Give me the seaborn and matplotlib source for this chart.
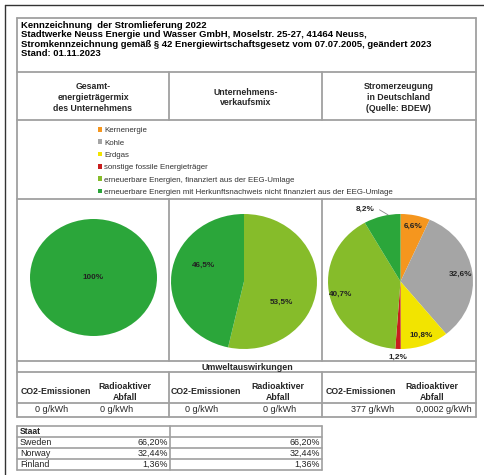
# %% Requirements and constants
import numpy as np
import seaborn as sns
import matplotlib.pyplot as plt
from matplotlib.patches import Patch

sns.set_theme(style='white')
plt.rcParams['font.family'] = ['Liberation Sans', 'DejaVu Sans']

title_lines = [
    'Kennzeichnung  der Stromlieferung 2022',
    'Stadtwerke Neuss Energie und Wasser GmbH, Moselstr. 25-27, 41464 Neuss,',
    'Stromkennzeichnung gemäß § 42 Energiewirtschaftsgesetz vom 07.07.2005, geändert 2023',
    'Stand: 01.11.2023',
]
col_headers = [
    'Gesamt-\nenergieträgermix\ndes Unternehmens',
    'Unternehmens-\nverkaufsmix',
    'Stromerzeugung\nin Deutschland\n(Quelle: BDEW)',
]
sources = [
    'Kernenergie',
    'Kohle',
    'Erdgas',
    'sonstige fossile Energieträger',
    'erneuerbare Energien, finanziert aus der EEG-Umlage',
    'erneuerbare Energien mit Herkunftsnachweis nicht finanziert aus der EEG-Umlage',
]
colors = ['#f5961e', '#a5a5a5', '#f2e400', '#c81e1e', '#86bc2a', '#2ba63a']

mix_company = [0, 0, 0, 0, 0, 100]
mix_sales = [0, 0, 0, 0, 53.5, 46.5]
mix_germany = [6.6, 32.6, 10.8, 1.2, 40.7, 8.2]

co2 = ['0 g/kWh', '0 g/kWh', '377 g/kWh']
radio = ['0 g/kWh', '0 g/kWh', '0,0002 g/kWh']

staat = ['Sweden', 'Norway', 'Finland']
staat_share = ['66,20%', '32,44%', '1,36%']

W, H = 485, 475
GRID = '#a0a0a0'


def fmt(v):
    return '100%' if v == 100 else f'{v:.1f}'.replace('.', ',') + '%'


# %% Layout
fig = plt.figure(figsize=(W / 100, H / 100), dpi=100)
ax = fig.add_axes([0, 0, 1, 1])
ax.set_xlim(0, W)
ax.set_ylim(H, 0)
ax.axis('off')

# outer frame (only top/left visible)
ax.plot([5, W], [5, 5], color='#333333', lw=1)
ax.plot([5, 5], [5, H], color='#333333', lw=1)

# main table
L, R, T, B = 17, 476, 18, 417
c1, c2 = 169, 322
for y in [T, 72, 120, 199, 361, 372, 403, B]:
    ax.plot([L, R], [y, y], color=GRID, lw=1.3)
for x in [L, R]:
    ax.plot([x, x], [T, B], color=GRID, lw=1.3)
for x in [c1, c2]:
    for y0, y1 in [(72, 120), (199, 361), (372, B)]:
        ax.plot([x, x], [y0, y1], color=GRID, lw=1.3)

for i, line in enumerate(title_lines):
    ax.text(21, 25 + i * 9.6, line, fontsize=6.8, fontweight='bold',
            va='center', ha='left', color='black')

for cx, txt in zip([93, 245.5, 399], col_headers):
    ax.text(cx, 97.5, txt, fontsize=6.3, fontweight='bold', ha='center',
            va='center', linespacing=1.25)

# legend
handles = [Patch(facecolor=c, edgecolor='none') for c in colors]
ax.legend(handles, sources, loc='upper left', bbox_to_anchor=(98 / W, 1 - 127 / H),
          frameon=False, fontsize=5.7, handlelength=0.55, handleheight=0.55,
          handletextpad=0.2, labelspacing=0.65, borderaxespad=0, borderpad=0,
          labelcolor='#333333')

# pies
boxes = [(30, 219, 157, 336), (171, 214, 317, 349), (328, 214, 473, 349)]
for (x0, y0, x1, y1), vals in zip(boxes, [mix_company, mix_sales, mix_germany]):
    pax = fig.add_axes([x0 / W, 1 - y1 / H, (x1 - x0) / W, (y1 - y0) / H])
    idx = [i for i, v in enumerate(vals) if v > 0]
    v = [vals[i] for i in idx]
    wedges, _ = pax.pie(v, colors=[colors[i] for i in idx], startangle=90,
                        counterclock=False, wedgeprops=dict(linewidth=0))
    pax.set_aspect('auto')
    pax.set_xlim(-1, 1)
    pax.set_ylim(-1, 1)
    for w, val in zip(wedges, v):
        ang = np.deg2rad((w.theta1 + w.theta2) / 2)
        r = 0.84 if len(v) > 2 else 0.0
        if len(v) == 2:
            r = 0.6
            ang += np.deg2rad(-25 if val > 50 else -17)
        if val < 2:
            r = 1.13
        if 8 < val < 9:
            # small slice: label outside with a leader line
            r = 1.17
            edge = ang - np.deg2rad(5)
            ang += np.deg2rad(10)
            tx, ty = r * np.cos(ang), r * np.sin(ang)
            pax.plot([tx + 0.2, np.cos(edge)], [ty, np.sin(edge)],
                     color='#888888', lw=0.6, clip_on=False)
        tx, ty = r * np.cos(ang), r * np.sin(ang)
        pax.text(tx, ty, fmt(val), ha='center', va='center', fontsize=5.9,
                 fontweight='bold', color='#222222', clip_on=False)

# environmental impact
ax.text(247, 367, 'Umweltauswirkungen', fontsize=6.4, fontweight='bold',
        ha='center', va='center')
co2_x = [56, 206, 361]
rad_x = [125, 278, 432]
val_co2_x = [52, 202, 373]
val_rad_x = [117, 280, 444]
for i in range(3):
    ax.text(co2_x[i], 392, 'CO2-Emissionen', fontsize=6.3, fontweight='bold',
            ha='center', va='center')
    ax.text(rad_x[i], 392, 'Radioaktiver\nAbfall', fontsize=6.3, fontweight='bold',
            ha='center', va='center', linespacing=1.3)
    ax.text(val_co2_x[i], 410, co2[i], fontsize=6.5, ha='center', va='center')
    ax.text(val_rad_x[i], 410, radio[i], fontsize=6.5, ha='center', va='center')

# Staat table
rows = [426, 437, 448, 459, 470]
for y in rows:
    ax.plot([17, 322], [y, y], color=GRID, lw=1.2)
for x in [17, 170, 322]:
    ax.plot([x, x], [rows[0], rows[-1]], color=GRID, lw=1.2)
ax.text(20, 431.5, 'Staat', fontsize=6.2, fontweight='bold', va='center')
for i, (s, p) in enumerate(zip(staat, staat_share)):
    yc = rows[i + 1] + 5.5
    ax.text(20, yc, s, fontsize=6.4, va='center', color='#222222')
    ax.text(168, yc, p, fontsize=6.4, va='center', ha='right', color='#222222')
    ax.text(320, yc, p, fontsize=6.4, va='center', ha='right', color='#222222')

fig.savefig('out.png', dpi=100)
